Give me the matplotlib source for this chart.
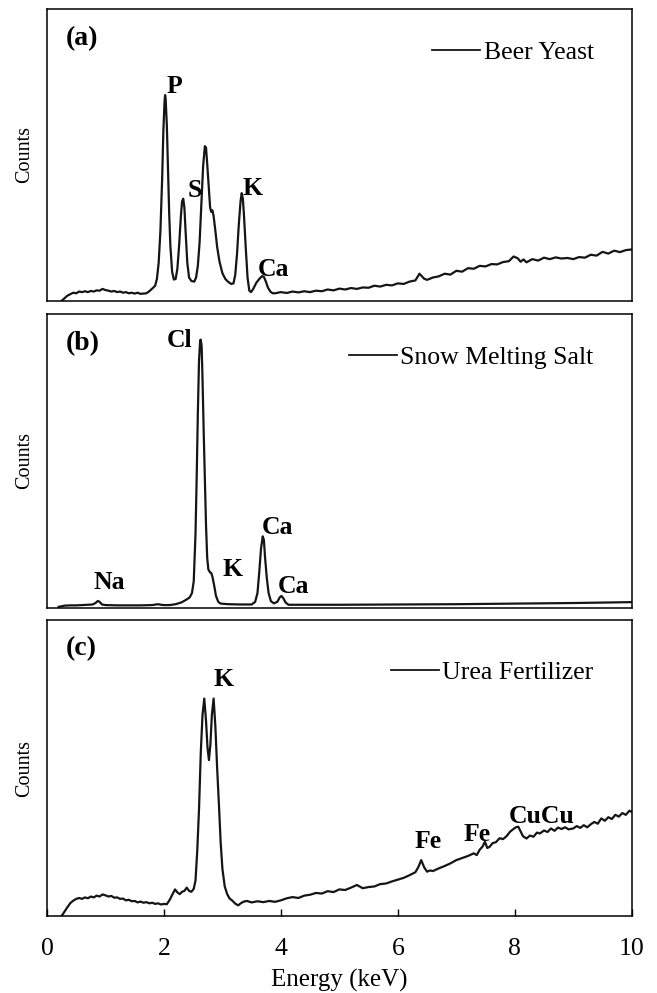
import numpy as np
import matplotlib
matplotlib.use("Agg")
import matplotlib.pyplot as plt

plt.rcParams.update({"font.family": ["Liberation Serif", "DejaVu Serif"],
                     "axes.linewidth": 1.1, "savefig.dpi": 100})

# ---- spectra (energy keV, counts in % of panel height) ----
E_A = [0.25, 0.30, 0.35, 0.40, 0.45, 0.50, 0.55, 0.60, 0.65, 0.70, 0.75, 0.80, 0.85, 0.90, 0.95,
       1.00, 1.05, 1.10, 1.15, 1.20, 1.25, 1.30, 1.35, 1.40, 1.45, 1.50, 1.55, 1.60, 1.65, 1.70,
       1.75, 1.80, 1.85, 1.88, 1.91, 1.94, 1.97, 1.99, 2.01, 2.02, 2.03, 2.05, 2.07, 2.09, 2.11,
       2.14, 2.17, 2.20, 2.23, 2.26, 2.29, 2.31, 2.33, 2.35, 2.37, 2.40, 2.43, 2.47, 2.52, 2.55,
       2.58, 2.61, 2.64, 2.67, 2.70, 2.72, 2.74, 2.77, 2.79, 2.81, 2.83, 2.85, 2.88, 2.91, 2.95,
       3.00, 3.05, 3.10, 3.15, 3.19, 3.22, 3.25, 3.28, 3.31, 3.33, 3.35, 3.37, 3.40, 3.43, 3.46,
       3.49, 3.53, 3.58, 3.63, 3.68, 3.71, 3.74, 3.78, 3.82, 3.86, 3.90, 4.00, 4.10, 4.20, 4.30,
       4.40, 4.50, 4.60, 4.70, 4.80, 4.90, 5.00, 5.10, 5.20, 5.30, 5.40, 5.50, 5.60, 5.70, 5.80,
       5.90, 6.00, 6.10, 6.20, 6.30, 6.37, 6.45, 6.50, 6.60, 6.70, 6.80, 6.90, 7.00, 7.10, 7.20,
       7.30, 7.40, 7.50, 7.60, 7.70, 7.80, 7.90, 7.98, 8.05, 8.10, 8.15, 8.20, 8.30, 8.40, 8.50,
       8.60, 8.70, 8.80, 8.90, 9.00, 9.10, 9.20, 9.30, 9.40, 9.50, 9.60, 9.70, 9.80, 9.90, 10.0]
C_A = [0.0, 0.9, 1.8, 2.3, 2.8, 2.6, 3.2, 3.0, 3.3, 3.0, 3.4, 3.2, 3.6, 3.5, 4.1,
       3.7, 3.5, 3.2, 3.4, 3.0, 3.2, 2.8, 3.0, 2.6, 2.8, 2.5, 2.8, 2.4, 2.5, 2.6,
       3.3, 4.2, 5.2, 7.5, 13.0, 24.0, 42.0, 58.0, 68.0, 70.5, 69.0, 60.0, 45.0, 30.0, 19.0,
       10.0, 7.3, 7.5, 11.0, 19.0, 29.0, 34.0, 35.0, 32.0, 24.0, 13.0, 8.0, 6.8, 6.6, 8.0,
       12.0, 20.0, 33.0, 46.0, 53.0, 52.5, 47.0, 38.0, 32.0, 30.5, 31.0, 29.0, 24.0, 18.5, 13.5,
       9.5, 7.5, 6.5, 5.8, 6.0, 9.0, 16.0, 26.0, 34.0, 36.9, 35.0, 29.0, 18.0, 8.0, 3.5,
       3.0, 4.2, 6.2, 7.5, 8.5, 8.2, 6.8, 4.5, 3.2, 2.6, 2.6, 3.0, 2.7, 3.2, 2.9,
       3.3, 3.0, 3.5, 3.3, 3.9, 3.6, 4.2, 3.9, 4.4, 4.1, 4.6, 4.5, 5.2, 4.9, 5.5,
       5.3, 6.0, 5.8, 6.6, 7.0, 9.3, 7.6, 7.2, 8.0, 8.4, 9.3, 9.0, 10.3, 10.0, 11.2,
       11.0, 12.0, 11.8, 12.6, 12.5, 13.3, 13.6, 15.2, 14.6, 13.4, 14.2, 13.2, 14.3, 13.8, 14.8,
       14.3, 14.9, 14.5, 14.7, 14.3, 15.0, 14.8, 15.8, 15.5, 16.8, 16.2, 17.2, 16.7, 17.4, 17.6]

E_B = [0.20, 0.30, 0.40, 0.50, 0.60, 0.70, 0.78, 0.83, 0.87, 0.90, 0.94, 1.00, 1.20, 1.40, 1.60,
       1.80, 1.90, 1.95, 2.00, 2.10, 2.20, 2.30, 2.38, 2.44, 2.48, 2.51, 2.54, 2.56, 2.58, 2.60,
       2.62, 2.63, 2.645, 2.66, 2.68, 2.70, 2.72, 2.74, 2.76, 2.79, 2.81, 2.83, 2.86, 2.89, 2.93,
       2.97, 3.10, 3.30, 3.50, 3.56, 3.60, 3.63, 3.66, 3.69, 3.71, 3.73, 3.76, 3.79, 3.83, 3.88,
       3.94, 3.98, 4.01, 4.04, 4.08, 4.13, 4.50, 5.00, 6.00, 7.00, 8.00, 9.00, 10.0]
C_B = [0.3, 0.7, 0.8, 0.8, 0.9, 1.0, 1.1, 1.6, 2.3, 2.0, 1.1, 0.9, 0.8, 0.8, 0.8,
       0.9, 1.2, 1.0, 0.9, 0.9, 1.2, 1.8, 2.7, 3.5, 5.0, 9.0, 25.0, 44.0, 66.0, 84.0,
       91.0, 91.2, 89.0, 78.0, 60.0, 44.0, 28.0, 17.0, 13.0, 12.0, 11.8, 10.5, 7.5, 4.0, 2.0,
       1.4, 1.2, 1.1, 1.1, 2.0, 5.0, 12.0, 20.0, 24.3, 23.0, 17.0, 10.0, 5.0, 2.2, 1.5,
       2.0, 3.5, 4.0, 3.3, 1.8, 1.0, 1.0, 1.0, 1.1, 1.2, 1.4, 1.6, 1.9]

E_C = [0.25, 0.30, 0.35, 0.40, 0.45, 0.50, 0.55, 0.60, 0.65, 0.70, 0.75, 0.80, 0.85, 0.90, 0.95,
       1.00, 1.05, 1.10, 1.15, 1.20, 1.25, 1.30, 1.35, 1.40, 1.45, 1.50, 1.55, 1.60, 1.65, 1.70,
       1.75, 1.80, 1.85, 1.90, 1.95, 2.00, 2.05, 2.10, 2.15, 2.19, 2.23, 2.27, 2.31, 2.35, 2.39,
       2.43, 2.47, 2.51, 2.54, 2.57, 2.60, 2.63, 2.66, 2.69, 2.72, 2.745, 2.77, 2.795, 2.82, 2.85,
       2.88, 2.91, 2.94, 2.97, 3.00, 3.04, 3.08, 3.12, 3.17, 3.22, 3.27, 3.32, 3.37, 3.42, 3.50,
       3.60, 3.70, 3.80, 3.90, 4.00, 4.10, 4.20, 4.30, 4.40, 4.50, 4.60, 4.70, 4.80, 4.90, 5.00,
       5.10, 5.20, 5.30, 5.40, 5.50, 5.60, 5.70, 5.80, 5.90, 6.00, 6.10, 6.20, 6.30, 6.35, 6.40,
       6.45, 6.50, 6.55, 6.60, 6.70, 6.80, 6.90, 7.00, 7.10, 7.20, 7.30, 7.35, 7.40, 7.45, 7.49,
       7.53, 7.57, 7.62, 7.68, 7.74, 7.80, 7.86, 7.92, 7.97, 8.02, 8.06, 8.10, 8.14, 8.20, 8.26,
       8.32, 8.38, 8.43, 8.50, 8.56, 8.62, 8.68, 8.74, 8.80, 8.86, 8.92, 9.00, 9.06, 9.12, 9.18,
       9.24, 9.30, 9.36, 9.42, 9.48, 9.54, 9.60, 9.66, 9.72, 9.78, 9.84, 9.90, 9.96, 10.0]
C_C = [0.0, 1.5, 3.0, 4.4, 5.2, 5.8, 6.1, 5.8, 6.3, 6.0, 6.6, 6.3, 6.9, 6.6, 7.3,
       7.0, 6.6, 6.8, 6.2, 6.3, 5.8, 5.9, 5.3, 5.5, 5.0, 5.1, 4.6, 4.9, 4.5, 4.7,
       4.3, 4.5, 4.1, 4.3, 3.9, 4.1, 4.0, 5.5, 7.5, 9.0, 8.0, 7.4, 8.2, 8.5, 9.6,
       8.5, 8.2, 9.2, 12.0, 22.0, 36.0, 55.0, 68.0, 73.5, 66.0, 57.0, 52.7, 58.0, 68.0, 73.5,
       64.0, 50.0, 38.0, 25.0, 16.0, 10.0, 7.5, 6.0, 5.2, 4.2, 3.6, 4.4, 4.9, 5.1, 4.6,
       5.0, 4.7, 5.1, 4.8, 5.3, 6.0, 6.4, 6.1, 6.9, 7.2, 7.8, 7.6, 8.4, 8.1, 9.0,
       8.8, 9.6, 10.5, 9.4, 9.8, 10.0, 10.8, 11.0, 11.7, 12.3, 12.9, 13.8, 14.8, 16.5, 18.9,
       16.5, 15.0, 15.4, 15.2, 16.1, 16.9, 17.8, 18.9, 19.6, 20.3, 21.2, 20.6, 22.4, 23.5, 25.1,
       23.0, 23.4, 24.6, 25.0, 26.3, 26.0, 27.0, 28.5, 29.3, 30.0, 30.2, 28.6, 27.0, 26.2, 27.2,
       26.8, 28.2, 27.9, 28.9, 28.4, 29.6, 28.8, 29.9, 29.4, 30.0, 29.3, 29.6, 30.4, 29.8, 30.7,
       30.0, 31.0, 31.8, 31.2, 33.0, 32.2, 33.4, 32.8, 34.2, 33.6, 34.8, 34.2, 35.6, 35.2]

SAMPLES = ["Beer Yeast", "Snow Melting Salt", "Urea Fertilizer"]
PANELS = ["(a)", "(b)", "(c)"]
# peak labels: (text, energy of left edge, counts)
PEAKS_A = [("P", 2.05, 73.6), ("S", 2.41, 37.7), ("K", 3.35, 38.4), ("Ca", 3.61, 10.6)]
PEAKS_B = [("Cl", 2.05, 90.8), ("Na", 0.79, 8.5), ("K", 3.01, 12.9), ("Ca", 3.67, 27.4), ("Ca", 3.95, 7.3)]
PEAKS_C = [("K", 2.84, 80.0), ("Fe", 6.29, 25.1), ("Fe", 7.12, 27.4), ("CuCu", 7.89, 33.5)]
XTICKS = [0, 2, 4, 6, 8, 10]

fig = plt.figure(figsize=(6.57, 9.93))
boxes = [[0.0715, 0.697, 0.890, 0.294],
         [0.0715, 0.388, 0.890, 0.296],
         [0.0715, 0.0775, 0.890, 0.298]]
leg_y = [0.85, 0.85, 0.824]
series = [(E_A, C_A, PEAKS_A), (E_B, C_B, PEAKS_B), (E_C, C_C, PEAKS_C)]

for i, (box, (E, C, peaks)) in enumerate(zip(boxes, series)):
    ax = fig.add_axes(box)
    ax.plot(E, C, color="#151515", lw=1.6, label=SAMPLES[i])
    ax.set_xlim(0, 10); ax.set_ylim(0, 100)
    ax.set_yticks([])
    ax.set_ylabel("Counts", fontsize=14.5, labelpad=9)
    ax.text(0.032, 0.90 if i < 2 else 0.905, PANELS[i], transform=ax.transAxes,
            fontsize=20, fontweight="bold", va="center", ha="left")
    for txt, x, y in peaks:
        ax.text(x, y, txt, fontsize=18.5, fontweight="bold", va="center", ha="left")
    leg = ax.legend(loc="center right", bbox_to_anchor=(0.935, leg_y[i]), frameon=False,
                    fontsize=18.5, handlelength=1.9, handletextpad=0.12, borderaxespad=0, borderpad=0)
    leg.get_lines()[0].set_linewidth(1.3)
    if i < 2:
        ax.set_xticks([])
    else:
        ax.set_xticks(XTICKS)
        ax.tick_params(axis="x", direction="in", length=5, width=1, labelsize=18.5, pad=16)
        ax.set_xlabel("Energy (keV)", fontsize=18, labelpad=6)

fig.savefig("out.png")
